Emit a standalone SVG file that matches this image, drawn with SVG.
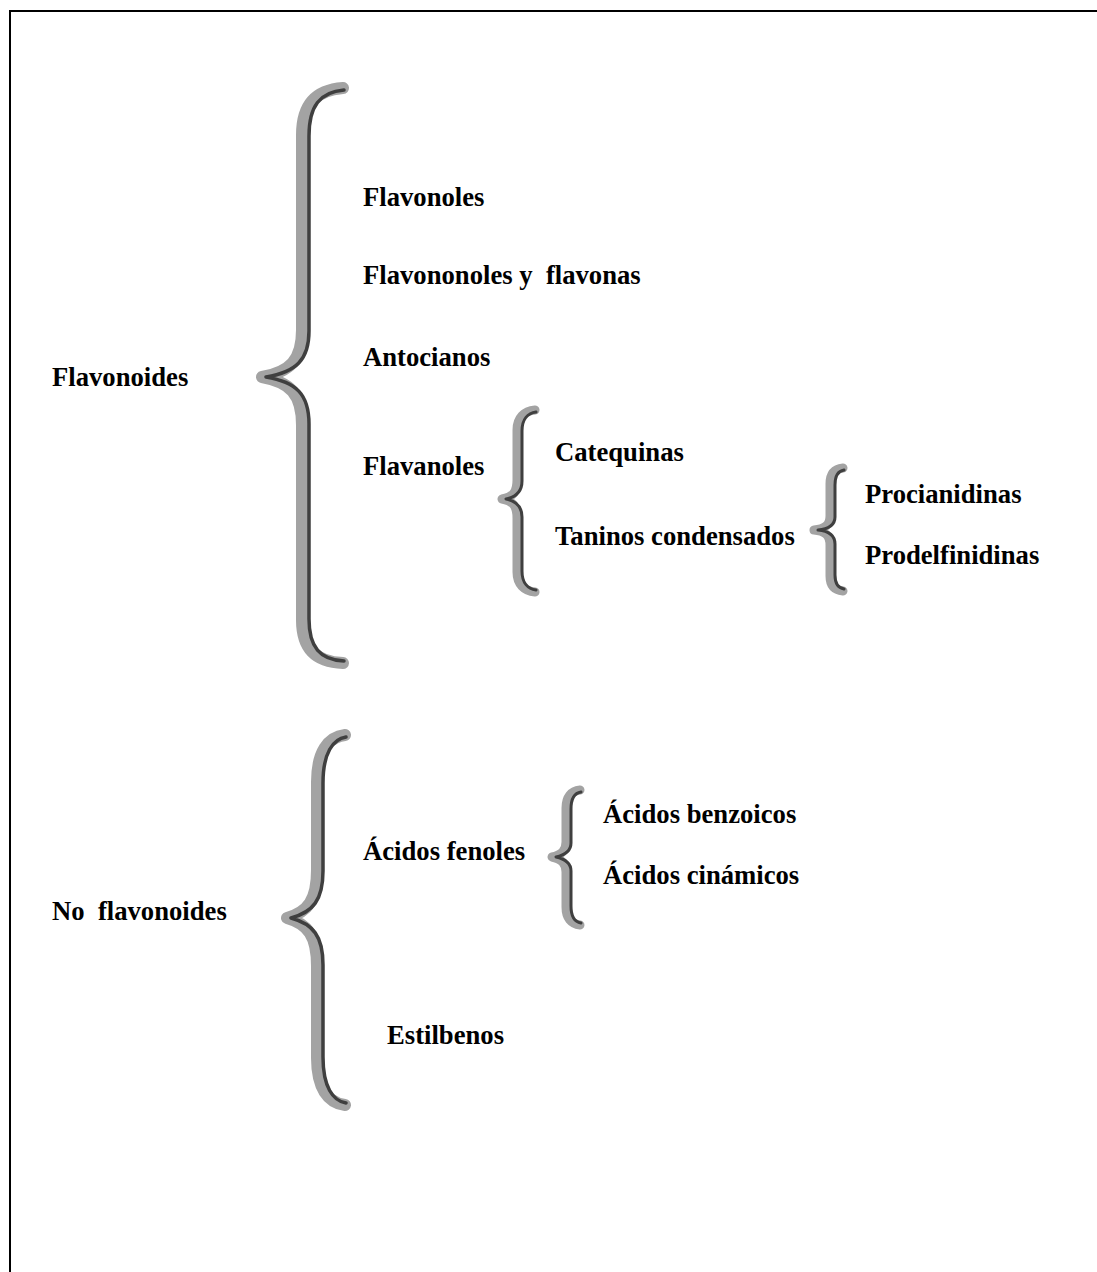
<svg xmlns="http://www.w3.org/2000/svg" width="1097" height="1272" viewBox="0 0 1097 1272">
<style>
  text { font-family: "Liberation Serif", "Times New Roman", serif; font-weight: bold; font-size: 26.67px; fill: #000; }
  .lt { fill: none; stroke: #a3a3a3; stroke-linecap: round; stroke-linejoin: round; }
  .dk { fill: none; stroke: #3f3f3f; stroke-linecap: round; stroke-linejoin: round; }
  .big .lt { stroke-width: 12; }
  .big .dk { stroke-width: 3.5; }
  .sm .lt { stroke-width: 9; }
  .sm .dk { stroke-width: 3; }
  .frame { stroke: #000; stroke-width: 2; fill: none; }
</style>
<rect width="1097" height="1272" fill="#fff"/>
<path class="frame" d="M1097,11 L10,11 L10,1272"/>
<g id="connectors">
  <g id="brace-flavonoides" class="big">
    <path class="lt" d="M343,88 C315,90 302,105 302,135 L302,330 C302,360 290,372 262,377 C290,382 302,394 302,425 L302,620 C302,648 315,662 343,663"/>
    <path class="dk" d="M344,90 C320,92 309,106 309,136 L309,331 C309,360 296,372 266,377 C296,382 309,394 309,424 L309,619 C309,647 320,660 344,661"/>
  </g>
  <g id="brace-flavanoles" class="sm">
    <path class="lt" d="M535,410 C524,411 517,418 517,430 L517,480 C517,492 513,497 502,499 C513,501 517,506 517,518 L517,572 C517,584 524,591 535,592"/>
    <path class="dk" d="M536,412 C528,413 522,419 522,431 L522,481 C522,492 516,497 506,499 C516,501 522,506 522,517 L522,571 C522,583 528,589 536,590"/>
  </g>
  <g id="brace-taninos" class="sm">
    <path class="lt" d="M843,468 C834,469 830,474 830,484 L830,516 C830,525 825,529 814,530 C825,531 830,535 830,545 L830,576 C830,585 834,590 843,591"/>
    <path class="dk" d="M844,470 C838,471 835,476 835,485 L835,517 C835,525 828,529 818,530 C828,531 835,535 835,544 L835,575 C835,584 838,588 844,589"/>
  </g>
  <g id="brace-noflavonoides" class="big">
    <path class="lt" d="M345,735 C328,737 317,752 317,782 L317,870 C317,900 308,912 287,918 C308,924 317,936 317,966 L317,1058 C317,1088 328,1103 345,1105"/>
    <path class="dk" d="M346,737 C333,739 323,753 323,783 L323,871 C323,900 313,912 291,918 C313,924 323,936 323,965 L323,1057 C323,1087 333,1101 346,1103"/>
  </g>
  <g id="brace-acidos" class="sm">
    <path class="lt" d="M580,790 C571,791 566,797 566,808 L566,842 C566,851 561,855 552,857 C561,859 566,863 566,872 L566,907 C566,918 571,924 580,925"/>
    <path class="dk" d="M581,792 C575,793 571,798 571,809 L571,843 C571,851 565,855 556,857 C565,859 571,863 571,871 L571,906 C571,917 575,922 581,923"/>
  </g>
</g>
<g id="n-flavonoides"><text x="52" y="386">Flavonoides</text></g>
<g id="n-flavonoles"><text x="363" y="206">Flavonoles</text></g>
<g id="n-flavononoles"><text x="363" y="284" xml:space="preserve">Flavononoles y  flavonas</text></g>
<g id="n-antocianos"><text x="363" y="366">Antocianos</text></g>
<g id="n-flavanoles"><text x="363" y="475">Flavanoles</text></g>
<g id="n-catequinas"><text x="555" y="461">Catequinas</text></g>
<g id="n-taninos"><text x="555" y="545">Taninos condensados</text></g>
<g id="n-procianidinas"><text x="865" y="503">Procianidinas</text></g>
<g id="n-prodelfinidinas"><text x="865" y="564">Prodelfinidinas</text></g>
<g id="n-noflavonoides"><text x="52" y="920" xml:space="preserve">No  flavonoides</text></g>
<g id="n-acidosfenoles"><text x="363" y="860">Ácidos fenoles</text></g>
<g id="n-benzoicos"><text x="603" y="823">Ácidos benzoicos</text></g>
<g id="n-cinamicos"><text x="603" y="884">Ácidos cinámicos</text></g>
<g id="n-estilbenos"><text x="387" y="1044">Estilbenos</text></g>
</svg>
